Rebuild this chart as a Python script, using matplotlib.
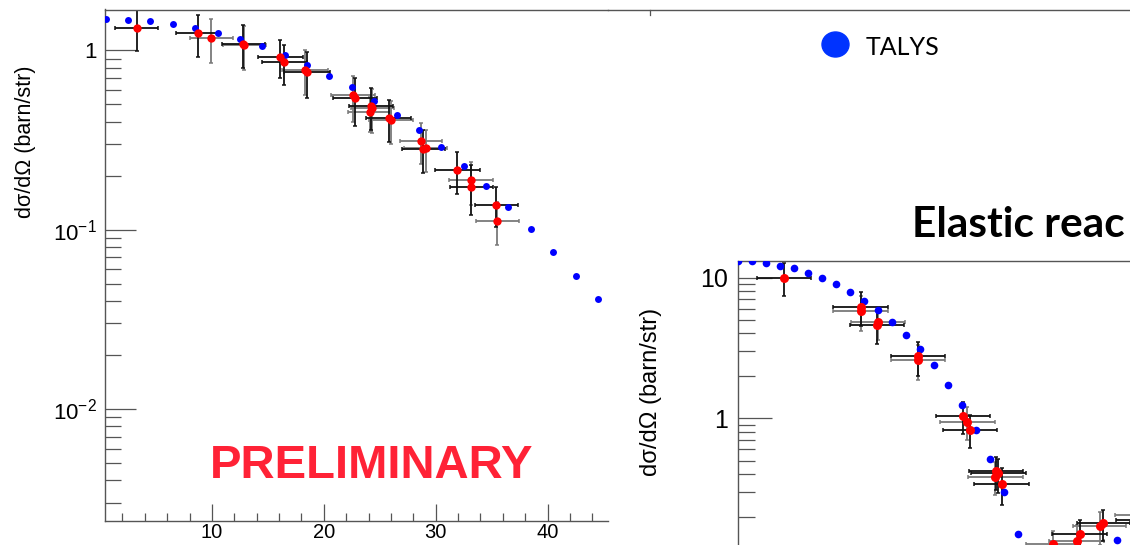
"""
Two ROOT-style elastic-scattering angular distributions (data vs TALYS), slide crop.
"""
import math
import matplotlib
matplotlib.use("Agg")
import matplotlib.pyplot as plt
from matplotlib.lines import Line2D
from matplotlib.patches import Ellipse
from matplotlib.ticker import MultipleLocator, LogLocator, NullFormatter, FuncFormatter

W, H = 1130, 545

plt.rcParams["font.family"] = ["Liberation Sans", "DejaVu Sans"]
plt.rcParams["mathtext.fontset"] = "custom"
plt.rcParams["mathtext.rm"] = "Liberation Sans"
plt.rcParams["mathtext.it"] = "Liberation Sans:italic"
plt.rcParams["mathtext.bf"] = "Liberation Sans:bold"

# --- left panel: TALYS ---
talys_l_x = [0.5, 2.5, 4.5, 6.5, 8.5, 10.5, 12.5, 14.5, 16.5, 18.5, 20.5, 22.5,
             24.5, 26.5, 28.5, 30.5, 32.5, 34.5, 36.5, 38.5, 40.5, 42.5, 44.5]
talys_l_y = [1.488, 1.474, 1.45, 1.395, 1.326, 1.243, 1.156, 1.053, 0.938, 0.832,
             0.722, 0.622, 0.524, 0.436, 0.359, 0.289, 0.226, 0.1757, 0.1343,
             0.1009, 0.0752, 0.055, 0.0408]

# --- left panel: data (black / gray error bars = two data sets) ---
data_l_x    = [3.26, 8.75, 9.94, 12.8, 12.9, 16.1, 16.47, 18.3, 18.5, 22.6, 22.8,
               24.2, 24.35, 24.1, 25.8, 26.0, 28.67, 28.9, 29.1, 31.93, 33.15,
               33.18, 35.4, 35.5]
data_l_y    = [1.336, 1.253, 1.17, 1.09, 1.07, 0.921, 0.858, 0.78, 0.76, 0.56, 0.54,
               0.49, 0.475, 0.452, 0.42, 0.41, 0.313, 0.283, 0.285, 0.215, 0.188,
               0.174, 0.138, 0.112]
data_l_xerr = [1.95, 1.93, 1.9, 1.9, 1.9, 2.0, 2.0, 2.05, 2.05, 1.95, 1.95,
               1.95, 1.95, 1.95, 2.0, 2.0, 1.9, 1.9, 1.9, 2.0, 1.95,
               1.92, 1.92, 1.92]
data_l_yerr = [0.34, 0.33, 0.32, 0.295, 0.29, 0.22, 0.22, 0.22, 0.22, 0.16, 0.16,
               0.13, 0.13, 0.10, 0.11, 0.11, 0.08, 0.076, 0.076, 0.056, 0.05,
               0.054, 0.035, 0.03]
data_l_set  = ["k", "k", "g", "k", "g", "k", "k", "g", "k", "g", "k",
               "k", "g", "g", "k", "g", "g", "k", "g", "k", "g",
               "k", "k", "g"]

# --- right panel: TALYS ---
talys_r_x = [0.5, 2.5, 4.5, 6.5, 8.5, 10.5, 12.5, 14.5, 16.5, 18.5, 20.5, 22.5,
             24.5, 26.5, 28.5, 30.5, 32.5, 34.5, 36.5, 38.5, 40.5, 54.5]
talys_r_y = [13.15, 13.0, 12.58, 12.17, 11.59, 10.8, 9.95, 8.92, 7.95, 6.86, 5.83,
             4.86, 3.93, 3.08, 2.38, 1.734, 1.237, 0.83, 0.513, 0.298, 0.150, 0.136]

# --- right panel: data ---
data_r_x    = [7.06, 17.98, 18.0, 20.5, 20.3, 26.15, 26.15, 32.6, 33.2, 33.6,
               37.3, 37.6, 37.2, 38.1, 49.2, 48.8, 52.1, 52.6, 45.4, 58.1, 58.3]
data_r_y    = [10.0, 6.2, 5.8, 4.82, 4.56, 2.75, 2.6, 1.038, 0.946, 0.83,
               0.42, 0.405, 0.385, 0.343, 0.15, 0.134, 0.171, 0.179, 0.127, 0.205, 0.19]
data_r_xerr = [3.85, 3.9, 3.9, 3.85, 3.85, 3.85, 3.85, 3.9, 3.9, 3.9,
               3.9, 3.9, 3.9, 3.9, 3.95, 3.9, 3.8, 3.8, 3.9, 3.9, 3.9]
data_r_yerr = [2.6, 1.65, 1.6, 1.25, 1.2, 0.75, 0.72, 0.27, 0.25, 0.22,
               0.11, 0.11, 0.10, 0.10, 0.04, 0.04, 0.045, 0.045, 0.03, 0.05, 0.05]
data_r_set  = ["k", "k", "g", "g", "k", "k", "g", "k", "g", "k",
               "k", "k", "g", "k", "k", "g", "g", "k", "g", "g", "k"]

C_TALYS = "#0000ff"
C_DATA = "#ff0000"
C_BAR = {"k": "#111111", "g": "#7a7a7a"}
C_AXIS = "#555555"


def fig_box(left, top, right, bottom):
    return [left / W, 1 - bottom / H, (right - left) / W, (bottom - top) / H]


def draw_panel(ax, tx, ty, dx, dy, dxe, dye, dset, ms_t, ms_d):
    for s in ("g", "k"):
        idx = [i for i, v in enumerate(dset) if v == s]
        ax.errorbar([dx[i] for i in idx], [dy[i] for i in idx],
                    xerr=[dxe[i] for i in idx], yerr=[dye[i] for i in idx],
                    fmt="none", ecolor=C_BAR[s], elinewidth=1.3,
                    capsize=1.6, capthick=1.1, zorder=2)
    ax.plot(tx, ty, "o", color=C_TALYS, ms=ms_t, mec="none", zorder=3)
    ax.plot(dx, dy, "o", color=C_DATA, ms=ms_d, mec="none", zorder=4)


def log_label(v, pos):
    if abs(v - 1) < 1e-9:
        return "1"
    if abs(v - 10) < 1e-9:
        return "10"
    return r"$10^{%d}$" % round(math.log10(v))


fig = plt.figure(figsize=(W / 100, H / 100), dpi=100)
fig.patch.set_facecolor("white")

# ---------------- left panel ----------------
axl = fig.add_axes(fig_box(104.5, 9.5, 608, 521))
draw_panel(axl, talys_l_x, talys_l_y, data_l_x, data_l_y, data_l_xerr,
           data_l_yerr, data_l_set, ms_t=5, ms_d=6)
axl.set_yscale("log")
axl.set_xlim(0.4, 45.4)
axl.set_ylim(0.00237, 1.69)
axl.spines["right"].set_visible(False)
for sp in ("left", "bottom", "top"):
    axl.spines[sp].set_color(C_AXIS)
    axl.spines[sp].set_linewidth(1.0)
axl.xaxis.set_major_locator(MultipleLocator(10))
axl.xaxis.set_minor_locator(MultipleLocator(2))
axl.yaxis.set_major_locator(LogLocator(base=10))
axl.yaxis.set_minor_locator(LogLocator(base=10, subs=range(2, 10)))
axl.yaxis.set_minor_formatter(NullFormatter())
axl.yaxis.set_major_formatter(FuncFormatter(log_label))
axl.tick_params(axis="y", which="major", direction="in", length=22, width=0.9,
                color=C_AXIS, labelsize=16, pad=5.5, right=False)
axl.tick_params(axis="y", which="minor", direction="in", length=11.5, width=0.9,
                color=C_AXIS, right=False)
axl.tick_params(axis="x", which="major", direction="in", length=12, width=0.9,
                color=C_AXIS, labelsize=14.5, pad=1.5, top=False)
axl.tick_params(axis="x", which="minor", direction="in", length=6, width=0.9,
                color=C_AXIS, top=False)

fig.text(26 / W, 1 - 142 / H, "dσ/dΩ (barn/str)", rotation=90, fontsize=15.5,
         ha="center", va="center")
fig.text(372 / W, 1 - 478 / H, "PRELIMINARY", color="#ff2236", fontsize=34,
         fontweight="bold", ha="center", va="baseline")

# top frame line running on across the slide
fig.add_artist(Line2D([608 / W, 1.0], [1 - 9.5 / H, 1 - 9.5 / H],
                      color=C_AXIS, lw=1.0, transform=fig.transFigure))
fig.add_artist(Line2D([650 / W, 650 / W], [1 - 9.5 / H, 1 - 15 / H],
                      color=C_AXIS, lw=0.9, transform=fig.transFigure))

# ---------------- right panel ----------------
axr = fig.add_axes(fig_box(737.7, 261, 1130, 545))
draw_panel(axr, talys_r_x, talys_r_y, data_r_x, data_r_y, data_r_xerr,
           data_r_yerr, data_r_set, ms_t=5.5, ms_d=6.5)
axr.set_yscale("log")
axr.set_xlim(0.46, 56.4)
axr.set_ylim(0.1256, 13.1)
axr.spines["right"].set_visible(False)
axr.spines["bottom"].set_visible(False)
for sp in ("left", "top"):
    axr.spines[sp].set_color(C_AXIS)
    axr.spines[sp].set_linewidth(1.0)
axr.set_xticks([])
axr.yaxis.set_major_locator(LogLocator(base=10))
axr.yaxis.set_minor_locator(LogLocator(base=10, subs=range(2, 10)))
axr.yaxis.set_minor_formatter(NullFormatter())
axr.yaxis.set_major_formatter(FuncFormatter(log_label))
axr.tick_params(axis="y", which="major", direction="in", length=24.5, width=0.9,
                color=C_AXIS, labelsize=18, pad=7, right=False)
axr.tick_params(axis="y", which="minor", direction="in", length=12.2, width=0.9,
                color=C_AXIS, right=False)

fig.text(651 / W, 1 - 392 / H, "dσ/dΩ (barn/str)", rotation=90, fontsize=17,
         ha="center", va="center")

# ---------------- slide overlay: legend + title ----------------
fig.add_artist(Ellipse((835.5 / W, 1 - 44.5 / H), 27 / W, 25 / H,
                       transform=fig.transFigure, color="#0033ff"))
fig.text(866 / W, 1 - 55 / H, "TALYS", fontsize=18, family="Lato",
         ha="left", va="baseline")
fig.text(912 / W, 1 - 237 / H, "Elastic reac", fontsize=30.5, family="Lato",
         fontweight="bold", ha="left", va="baseline")

fig.savefig("out.png", dpi=100, facecolor="white")
plt.close(fig)
